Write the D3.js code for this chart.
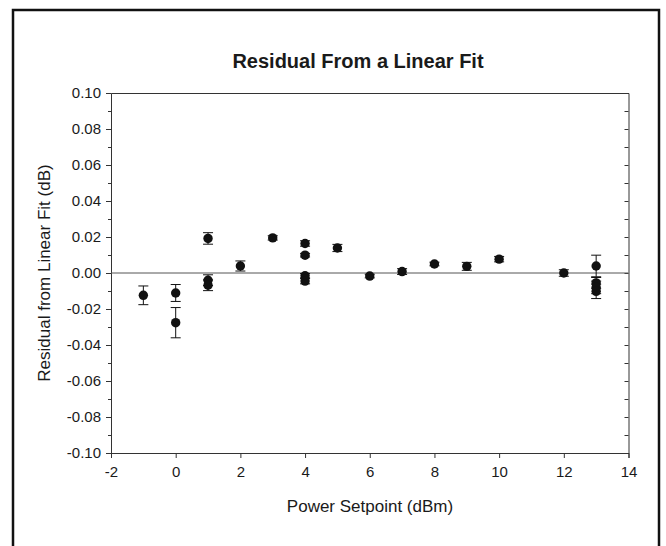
<!DOCTYPE html>
<html>
<head>
<meta charset="utf-8">
<script src="https://cdn.jsdelivr.net/npm/d3@7/dist/d3.min.js"></script>
<style>
  html, body { margin: 0; padding: 0; background: #fff; }
  text { font-family: "Liberation Sans", Arial, sans-serif; fill: #1a1a1a; }
</style>
</head>
<body>
<svg id="chart" width="666" height="546"></svg>
<script>
// ---- data ----
const powerSetpoint = [-1, 0, 0, 1, 1, 1, 2, 3, 4, 4, 4, 4, 5, 6, 7, 8, 9, 10, 12, 13, 13, 13, 13];
const residual      = [-0.0124, -0.0111, -0.0276, 0.0192, -0.0040, -0.0068, 0.0039, 0.0195, 0.0164, 0.0099, -0.0015, -0.0045, 0.0139, -0.0017, 0.0008, 0.0050, 0.0037, 0.0077, 0.0000, 0.0039, -0.0055, -0.0080, -0.0102];
const errorBar      = [0.0052, 0.0047, 0.0084, 0.0032, 0.0030, 0.0030, 0.0028, 0.0012, 0.0015, 0.0010, 0.0012, 0.0015, 0.0020, 0.0010, 0.0016, 0.0010, 0.0022, 0.0015, 0.0018, 0.0060, 0.0030, 0.0035, 0.0040];
const xTicks = [-2, 0, 2, 4, 6, 8, 10, 12, 14];
const yTicks = [-0.10, -0.08, -0.06, -0.04, -0.02, 0.00, 0.02, 0.04, 0.06, 0.08, 0.10];
const yMinorTicks = d3.range(-10, 11).map(d => d / 100);
const chartTitle = "Residual From a Linear Fit";
const xTitle = "Power Setpoint (dBm)";
const yTitle = "Residual from Linear Fit (dB)";

// ---- layout ----
const svg = d3.select("#chart");
const pLeft = 111, pRight = 628.5, pTop = 93, pBottom = 453;
const x = d3.scaleLinear().domain([-2, 14]).range([pLeft, pRight]);
const y = d3.scaleLinear().domain([-0.10, 0.10]).range([pBottom, pTop]);
const hy = f => s => d3.format(f)(s).replace("\u2212", "-");

// outer frame
svg.append("rect")
  .attr("x", 13).attr("y", 10).attr("width", 646).attr("height", 560)
  .attr("fill", "none").attr("stroke", "#111").attr("stroke-width", 2.5);

// title
svg.append("text")
  .attr("x", 358).attr("y", 68)
  .attr("text-anchor", "middle")
  .attr("font-size", 20).attr("font-weight", "bold")
  .text(chartTitle);

const axisColor = "#333";

// left axis with labels
svg.append("g").attr("transform", `translate(${pLeft},0)`)
  .call(d3.axisLeft(y).tickValues(yTicks).tickFormat(hy(".2f")).tickSize(5).tickPadding(5));
// left minor ticks
svg.append("g").attr("transform", `translate(${pLeft},0)`)
  .call(d3.axisLeft(y).tickValues(yMinorTicks.filter(v => !yTicks.some(t => Math.abs(t - v) < 1e-9))).tickFormat("").tickSize(3))
  .select(".domain").remove();

// right axis, inward ticks
svg.append("g").attr("transform", `translate(${pRight},0)`)
  .call(d3.axisLeft(y).tickValues(yMinorTicks).tickFormat("").tickSize(4));

// bottom axis
svg.append("g").attr("transform", `translate(0,${pBottom})`)
  .call(d3.axisBottom(x).tickValues(xTicks).tickFormat(hy("d")).tickSize(5).tickPadding(8));

// top border
svg.append("g").attr("transform", `translate(0,${pTop})`)
  .call(d3.axisTop(x).tickValues([]).tickSizeOuter(0));

svg.selectAll(".domain").attr("stroke", axisColor).attr("stroke-width", 1);
svg.selectAll(".tick line").attr("stroke", axisColor);
svg.selectAll("g").attr("font-size", null).attr("font-family", null);
svg.selectAll(".tick text").style("font-size", "15px").style("font-family", "'Liberation Sans', Arial, sans-serif").attr("fill", "#1a1a1a");

// zero line
svg.append("line")
  .attr("x1", pLeft).attr("x2", pRight)
  .attr("y1", y(0)).attr("y2", y(0))
  .attr("stroke", "#555").attr("stroke-width", 1);

// axis titles
svg.append("text")
  .attr("x", 370).attr("y", 512)
  .attr("text-anchor", "middle").style("font-size", "17px")
  .text(xTitle);
svg.append("text")
  .attr("transform", `translate(50,${y(0)}) rotate(-90)`)
  .attr("text-anchor", "middle").style("font-size", "17px")
  .text(yTitle);

// data
const pts = powerSetpoint.map((p, i) => ({ p, r: residual[i], e: errorBar[i] }));
const eb = svg.append("g").attr("stroke", "#111").attr("stroke-width", 1);
pts.forEach(d => {
  const cx = x(d.p);
  eb.append("line").attr("x1", cx).attr("x2", cx).attr("y1", y(d.r - d.e)).attr("y2", y(d.r + d.e));
  eb.append("line").attr("x1", cx - 5).attr("x2", cx + 5).attr("y1", y(d.r + d.e)).attr("y2", y(d.r + d.e));
  eb.append("line").attr("x1", cx - 5).attr("x2", cx + 5).attr("y1", y(d.r - d.e)).attr("y2", y(d.r - d.e));
});
svg.append("g").selectAll("circle").data(pts).join("circle")
  .attr("cx", d => x(d.p)).attr("cy", d => y(d.r)).attr("r", 4.7)
  .attr("fill", "#111");
</script>
</body>
</html>
